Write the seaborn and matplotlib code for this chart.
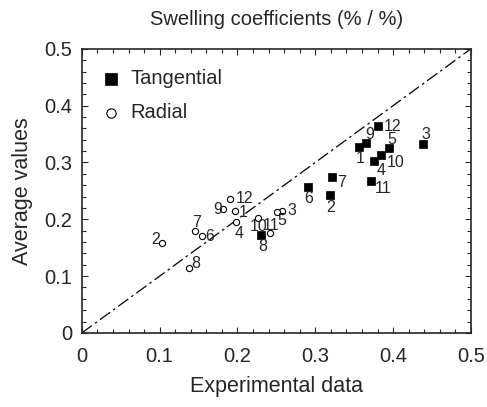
import matplotlib
matplotlib.use("Agg")
import matplotlib.pyplot as plt
import seaborn as sns
import pandas as pd
from matplotlib.ticker import MultipleLocator

# Data
tan_ids = ["1", "2", "3", "4", "5", "6", "7", "8", "9", "10", "11", "12"]
tan_exp = [0.356, 0.319, 0.439, 0.376, 0.395, 0.290, 0.322, 0.230, 0.365, 0.385, 0.371, 0.381]
tan_avg = [0.328, 0.242, 0.333, 0.302, 0.326, 0.256, 0.275, 0.172, 0.335, 0.313, 0.268, 0.364]

rad_ids = ["1", "2", "3", "4", "5", "6", "7", "8", "9", "10", "11", "12"]
rad_exp = [0.197, 0.103, 0.257, 0.198, 0.251, 0.154, 0.146, 0.138, 0.182, 0.227, 0.242, 0.190]
rad_avg = [0.214, 0.159, 0.215, 0.195, 0.212, 0.170, 0.180, 0.114, 0.218, 0.203, 0.176, 0.235]

# label offsets in pixels (dx, dy up)
tan_off = {"1": (1, -12), "2": (1, -12), "3": (2, 9), "4": (7, -9), "5": (3, 8), "6": (1, -11),
           "7": (9, -6), "8": (2, -11), "9": (4, 8), "10": (14, -7), "11": (13, -8), "12": (14, 0)}
rad_off = {"1": (8, -1), "2": (-6, 3), "3": (10, 0), "4": (3, -11), "5": (5, -8), "6": (8, 0),
           "7": (1, 8), "8": (7, 5), "9": (-6, 0), "10": (0, -9), "11": (1, 7), "12": (15, 1)}

tan = pd.DataFrame({"exp": tan_exp, "avg": tan_avg, "id": tan_ids})
rad = pd.DataFrame({"exp": rad_exp, "avg": rad_avg, "id": rad_ids})

sns.set_style("ticks")
plt.rcParams["font.family"] = ["Liberation Sans", "DejaVu Sans"]

fig = plt.figure(figsize=(4.87, 4.07), dpi=100)
ax = fig.add_axes([0.168, 0.182, 0.799, 0.698])

# y = x reference line
ax.plot([0, 0.5], [0, 0.5], color="black", lw=0.9, dashes=(10, 3, 2, 3))

sns.scatterplot(data=tan, x="exp", y="avg", marker="s", s=28, color="black",
                edgecolor="black", linewidth=0.5, label="Tangential", ax=ax, zorder=3)
sns.scatterplot(data=rad, x="exp", y="avg", marker="o", s=20, facecolor="white",
                edgecolor="black", linewidth=0.8, label="Radial", ax=ax, zorder=3)

for df, off in [(tan, tan_off), (rad, rad_off)]:
    for _, r in df.iterrows():
        dx, dy = off[r["id"]]
        ax.annotate(r["id"], (r["exp"], r["avg"]), xytext=(dx, dy), textcoords="offset pixels",
                    ha="center", va="center", fontsize=11.5)

ax.set_xlim(0, 0.5)
ax.set_ylim(0, 0.5)
ax.xaxis.set_minor_locator(MultipleLocator(0.02))
ax.yaxis.set_minor_locator(MultipleLocator(0.02))
ax.set_xticks([0, 0.1, 0.2, 0.3, 0.4, 0.5], ["0", "0.1", "0.2", "0.3", "0.4", "0.5"])
ax.set_yticks([0, 0.1, 0.2, 0.3, 0.4, 0.5], ["0", "0.1", "0.2", "0.3", "0.4", "0.5"])
ax.tick_params(which="both", direction="in", top=True, right=True, labelsize=14.5, width=0.8)
ax.tick_params(which="major", length=4)
ax.tick_params(axis="x", which="major", pad=10)
ax.tick_params(axis="y", which="major", pad=7)
ax.tick_params(which="minor", length=3)
for sp in ax.spines.values():
    sp.set_linewidth(1.2)
    sp.set_visible(True)

ax.set_xlabel("Experimental data", fontsize=15.5, labelpad=7)
ax.set_ylabel("Average values", fontsize=15.5, labelpad=8)
ax.set_title("Swelling coefficients (% / %)", fontsize=14.5, pad=17)

ax.legend(loc="upper left", frameon=False, fontsize=14.5, handletextpad=0.5,
          labelspacing=0.75, borderaxespad=0.6, handlelength=0.9, markerscale=1.5)

fig.savefig("out.png", dpi=100)
